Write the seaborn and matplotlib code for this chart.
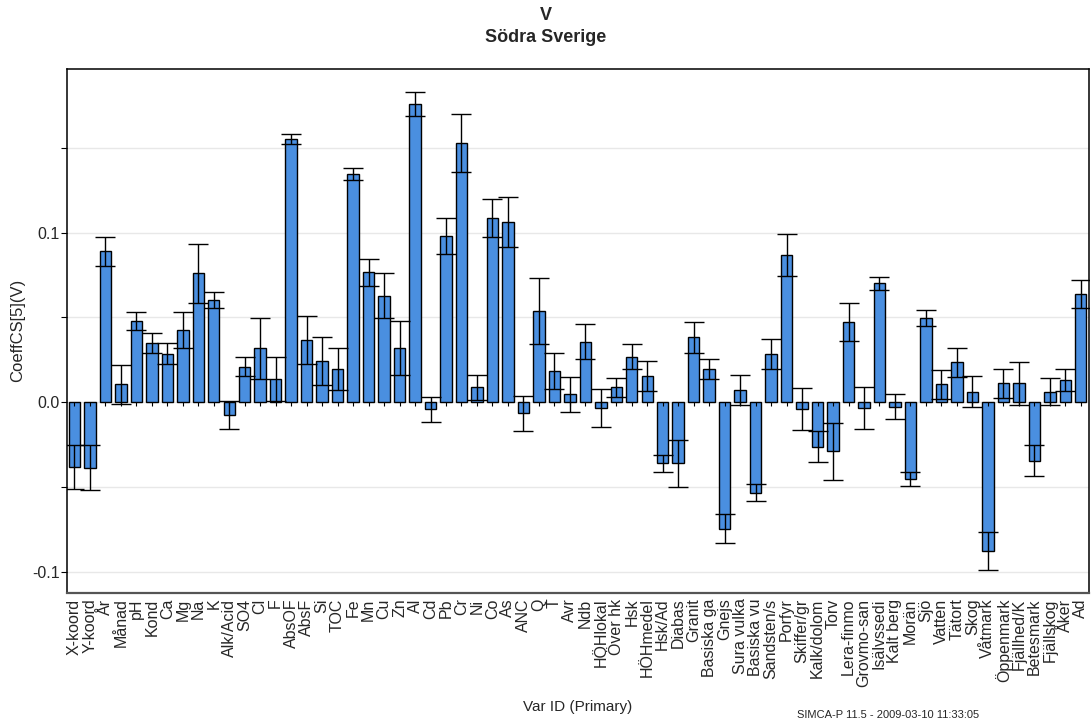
import numpy as np
import pandas as pd
import seaborn as sns
import matplotlib.pyplot as plt

variables = ["X-koord", "Y-koord", "År", "Månad", "pH", "Kond", "Ca", "Mg", "Na", "K",
             "Alk/Acid", "SO4", "Cl", "F", "AbsOF", "AbsF", "Si", "TOC", "Fe", "Mn",
             "Cu", "Zn", "Al", "Cd", "Pb", "Cr", "Ni", "Co", "As", "ANC",
             "Q", "T", "Avr", "Ndb", "HÖHlokal", "Över hk", "Hsk", "HÖHmedel", "Hsk/Ad", "Diabas",
             "Granit", "Basiska ga", "Gnejs", "Sura vulka", "Basiska vu", "Sandsten/s", "Porfyr",
             "Skiffer/gr", "Kalk/dolom", "Torv", "Lera-finmo", "Grovmo-san", "Isälvssedi",
             "Kalt berg", "Morän", "Sjö", "Vatten", "Tätort", "Skog", "Våtmark", "Öppenmark",
             "Fjällhed/K", "Betesmark", "Fjällskog", "Åker", "Ad"]

coef = [-0.0379, -0.0385, 0.0890, 0.0106, 0.0481, 0.0350, 0.0285, 0.0424, 0.0760, 0.0603,
        -0.0075, 0.0210, 0.0318, 0.0138, 0.1550, 0.0367, 0.0244, 0.0195, 0.1346, 0.0766,
        0.0629, 0.0318, 0.1756, -0.0041, 0.0980, 0.1527, 0.0088, 0.1086, 0.1061, -0.0065,
        0.0538, 0.0187, 0.0047, 0.0358, -0.0035, 0.0088, 0.0269, 0.0155, -0.0360, -0.0360,
        0.0383, 0.0195, -0.0743, 0.0073, -0.0532, 0.0285, 0.0866,
        -0.0041, -0.0261, -0.0287, 0.0473, -0.0035, 0.0701,
        -0.0026, -0.0450, 0.0497, 0.0106, 0.0236, 0.0063, -0.0874, 0.0112,
        0.0112, -0.0344, 0.0063, 0.0130, 0.0637]

conf = [0.0130, 0.0131, 0.0085, 0.0115, 0.0053, 0.0057, 0.0062, 0.0106, 0.0175, 0.0049,
        0.0080, 0.0057, 0.0180, 0.0130, 0.0028, 0.0139, 0.0142, 0.0123, 0.0037, 0.0080,
        0.0132, 0.0159, 0.0070, 0.0075, 0.0104, 0.0170, 0.0075, 0.0111, 0.0147, 0.0103,
        0.0197, 0.0106, 0.0103, 0.0102, 0.0112, 0.0054, 0.0074, 0.0090, 0.0050, 0.0136,
        0.0090, 0.0058, 0.0083, 0.0090, 0.0050, 0.0086, 0.0124,
        0.0123, 0.0090, 0.0168, 0.0111, 0.0123, 0.0037,
        0.0074, 0.0042, 0.0045, 0.0087, 0.0086, 0.0090, 0.0111, 0.0087,
        0.0127, 0.0090, 0.0079, 0.0066, 0.0083]

df = pd.DataFrame({"var": variables, "coef": coef, "conf": conf})

sns.set_style("white")
plt.rcParams["font.family"] = ["Liberation Sans", "DejaVu Sans"]

fig, ax = plt.subplots(figsize=(10.91, 7.21), dpi=100)
fig.subplots_adjust(left=0.0614, right=0.9984, top=0.9047, bottom=0.1775)

sns.barplot(data=df, x="var", y="coef", color="#4a8fe0", saturation=1,
            edgecolor="black", linewidth=1, width=0.74, errorbar=None, ax=ax)

pos = np.arange(len(df))
ax.errorbar(pos, df["coef"], yerr=df["conf"], fmt="none", ecolor="black",
            elinewidth=1, capsize=7, capthick=1, zorder=4)
# small tick marks on the zero line
ax.plot(pos, np.zeros(len(df)), linestyle="none", marker=3, markersize=3,
        color="black", markeredgewidth=0.8, zorder=1)

ax.set_xlim(-0.48, 65.55)
ax.set_ylim(-0.1123, 0.1965)
ax.set_yticks([-0.1, -0.05, 0.0, 0.05, 0.1, 0.15])
ax.set_yticklabels(["-0.1", "", "0.0", "", "0.1", ""])
ax.yaxis.grid(True, color="#e8e8e8", linewidth=1)
ax.set_axisbelow(True)
ax.tick_params(axis="y", length=4, width=0.8, color="black", labelsize=11.5, pad=1, left=True)
ax.tick_params(axis="x", length=0, labelsize=11.5, pad=4, rotation=90)
for lab in ax.get_xticklabels():
    lab.set_va("top")

for sp in ax.spines.values():
    sp.set_color("black")
    sp.set_linewidth(1.1)
ax.spines["bottom"].set_color("#555555")
ax.spines["bottom"].set_linewidth(1.6)

ax.set_xlabel("")
fig.text(578 / 1091, 1 - 707 / 721, "Var ID (Primary)", ha="center", va="center", fontsize=11)
ax.set_ylabel("CoeffCS[5](V)", fontsize=12, labelpad=5)

fig.text(0.5, 1 - 16 / 721, "V", ha="center", va="center", fontsize=13, fontweight="bold")
fig.text(0.5, 1 - 37 / 721, "Södra Sverige", ha="center", va="center", fontsize=13,
         fontweight="bold")
fig.text(797 / 1091, 1 - 720 / 721, "SIMCA-P 11.5 - 2009-03-10 11:33:05", ha="left",
         va="bottom", fontsize=8)

plt.savefig("out.png", dpi=100)
